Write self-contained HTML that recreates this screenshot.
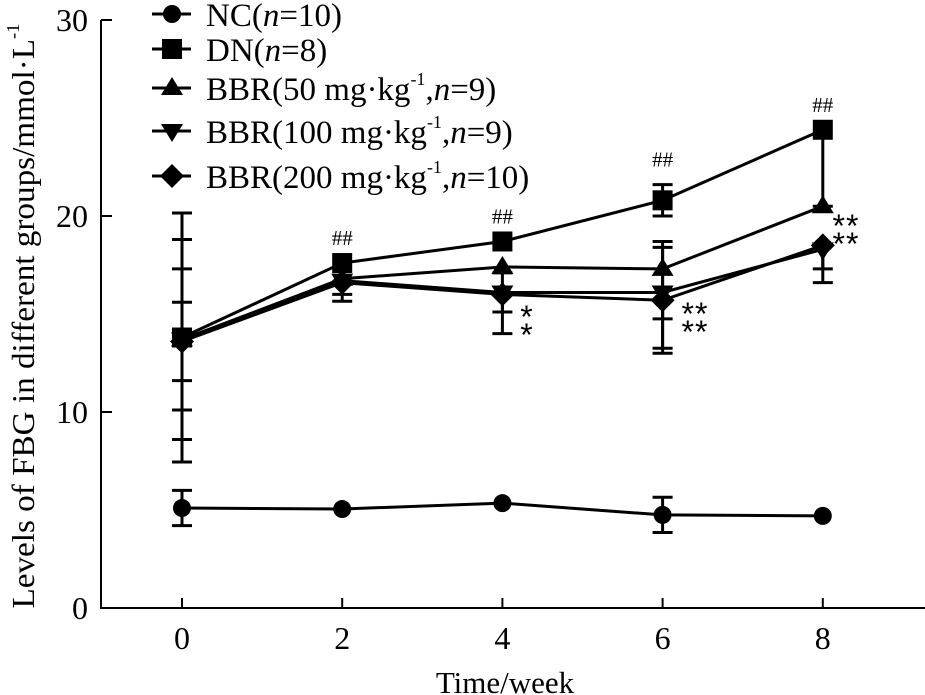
<!DOCTYPE html>
<html><head><meta charset="utf-8"><style>
html,body{margin:0;padding:0;background:#fff;}
svg{display:block;font-family:"Liberation Serif",serif;}
</style></head><body>
<svg id="chart" width="925" height="695" viewBox="0 0 925 695" xmlns="http://www.w3.org/2000/svg">
<g id="axes"></g>
<g id="series"></g>
<g id="annot"></g>
<g id="legend"></g>
<text transform="translate(34,316) rotate(-90)" text-anchor="middle" font-size="32" textLength="585" lengthAdjust="spacingAndGlyphs">Levels of FBG in different groups/mmol·L<tspan dy="-15" font-size="18">-1</tspan></text>
<text x="505" y="693" text-anchor="middle" font-size="31">Time/week</text>
</svg>
<script>
const weeks = [0, 2, 4, 6, 8];
const yTicks = [0, 10, 20, 30];
const names = ["NC", "DN", "BBR50", "BBR100", "BBR200"];
const ncVals = [5.1, 5.05, 5.35, 4.75, 4.7];
const dnVals = [13.8, 17.6, 18.7, 20.8, 24.4];
const b50Vals = [13.7, 16.8, 17.4, 17.3, 20.5];
const b100Vals = [13.7, 16.7, 16.1, 16.1, 18.3];
const b200Vals = [13.6, 16.6, 16.0, 15.7, 18.5];
const ncErrHi = [0.9, 0, 0, 0.9, 0];
const ncErrLo = [0.9, 0, 0, 0.9, 0];
const dnErrHi = [6.35, 0, 0, 0.8, 0];
const dnErrLo = [6.35, 0, 0, 0.8, 3.9];
const b50ErrHi = [5.1, 0, 0, 1.4, 0];
const b50ErrLo = [5.1, 0.8, 0, 4.3, 0];
const b100ErrHi = [3.6, 0, 1.0, 2.3, 0];
const b100ErrLo = [3.6, 1.05, 1.0, 2.85, 1.7];
const b200ErrHi = [2.0, 0, 0, 0, 0];
const b200ErrLo = [2.0, 0, 2.0, 0.95, 1.2];
const hashMarks = [0, 1, 1, 1, 1];
const starSets = [["", ""], ["", ""], ["*", "*"], ["**", "**"], ["**", "**"]];

const NS = "http://www.w3.org/2000/svg";
const X0 = 182, XS = 80.1, Y0 = 608, YS = 19.6;
const xs = w => X0 + w * XS;
const ys = v => Y0 - v * YS;
function mk(parent, tag, attrs) {
  const e = document.createElementNS(NS, tag);
  for (const k in attrs) e.setAttribute(k, attrs[k]);
  parent.appendChild(e);
  return e;
}
const axes = document.getElementById("axes");
let e = mk(axes, "path", {d: `M101 ${ys(30)} V${Y0} H925`, stroke: "#000", "stroke-width": 2, fill: "none"});


yTicks.forEach(t => {
  const l = mk(axes, "line", {x1: 101, x2: 112, y1: ys(t), y2: ys(t), stroke: "#000", "stroke-width": 2});
  
  
  const tx = mk(axes, "text", {x: 88, y: ys(t) + 11, "text-anchor": "end", "font-size": 32});
  tx.textContent = t;
  
  
});
weeks.forEach(w => {
  const l = mk(axes, "line", {x1: xs(w), x2: xs(w), y1: Y0, y2: Y0 - 10, stroke: "#000", "stroke-width": 2});
  
  
  const tx = mk(axes, "text", {x: xs(w), y: 649, "text-anchor": "middle", "font-size": 32});
  tx.textContent = w;
  
  
});

function marker(parent, type, cx, cy) {
  let m;
  if (type === "circle") m = mk(parent, "circle", {cx, cy, r: 9});
  else if (type === "square") m = mk(parent, "rect", {x: cx - 10, y: cy - 10, width: 20, height: 20});
  else if (type === "tri") m = mk(parent, "polygon", {points: `${cx - 11},${cy + 7} ${cx + 11},${cy + 7} ${cx},${cy - 11}`});
  else if (type === "itri") m = mk(parent, "polygon", {points: `${cx - 11},${cy - 7} ${cx + 11},${cy - 7} ${cx},${cy + 11}`});
  else m = mk(parent, "polygon", {points: `${cx - 12},${cy} ${cx},${cy - 12} ${cx + 12},${cy} ${cx},${cy + 12}`});
  m.setAttribute("fill", "#000");
  return m;
}
const seriesDefs = [
  {name: "nc", vals: ncVals, hi: ncErrHi, lo: ncErrLo, m: "circle"},
  {name: "dn", vals: dnVals, hi: dnErrHi, lo: dnErrLo, m: "square"},
  {name: "bbr50", vals: b50Vals, hi: b50ErrHi, lo: b50ErrLo, m: "tri"},
  {name: "bbr100", vals: b100Vals, hi: b100ErrHi, lo: b100ErrLo, m: "itri"},
  {name: "bbr200", vals: b200Vals, hi: b200ErrHi, lo: b200ErrLo, m: "diamond"}
];
const sg = document.getElementById("series");
seriesDefs.forEach(s => {
  const g = mk(sg, "g", {});
  
  
  s.vals.forEach((v, i) => {
    const x = xs(weeks[i]);
    [[s.hi[i], -1], [s.lo[i], 1]].forEach(([err, dir]) => {
      if (err > 0) {
        const yE = ys(v - dir * err);
        const b = mk(g, "path", {d: `M${x} ${ys(v)} V${yE} M${x - 10} ${yE} H${x + 10}`, stroke: "#000", "stroke-width": 3, fill: "none"});
        
        
      }
    });
  });
  const pts = s.vals.map((v, i) => `${xs(weeks[i])},${ys(v)}`).join(" ");
  const pl = mk(g, "polyline", {points: pts, fill: "none", stroke: "#000", "stroke-width": 3});
  
  
  s.vals.forEach((v, i) => {
    const m = marker(g, s.m, xs(weeks[i]), ys(v));
    
    
  });
});

const an = document.getElementById("annot");
weeks.forEach((w, i) => {
  if (hashMarks[i]) {
    const top = Math.max(dnVals[i] + dnErrHi[i], dnVals[i]);
    const t = mk(an, "text", {x: xs(w), y: ys(top) - 18, "text-anchor": "middle", "font-size": 21});
    t.textContent = "##";
    
    
  }
});
const starPos = [null, null, {x: 527, y: 313}, {x: 695, y: 310}, {x: 846, y: 222}];
starSets.forEach((st, i) => {
  if (!st[0]) return;
  st.forEach((s, k) => {
    const t = mk(an, "text", {x: starPos[i].x, y: starPos[i].y + k * 18 + 15, "text-anchor": "middle", "font-size": 32, "font-family": "Liberation Sans, sans-serif", "letter-spacing": "1"});
    t.textContent = s;
    
    
  });
});

const legendItems = [
  {m: "circle", y: 14, html: 'NC(<tspan font-style="italic">n</tspan>=10)'},
  {m: "square", y: 49, html: 'DN(<tspan font-style="italic">n</tspan>=8)'},
  {m: "tri", y: 88, html: 'BBR(50 mg·kg<tspan dy="-15" font-size="18">-1</tspan><tspan dy="15">,</tspan><tspan font-style="italic">n</tspan>=9)'},
  {m: "itri", y: 131, html: 'BBR(100 mg·kg<tspan dy="-15" font-size="18">-1</tspan><tspan dy="15">,</tspan><tspan font-style="italic">n</tspan>=9)'},
  {m: "diamond", y: 176, html: 'BBR(200 mg·kg<tspan dy="-15" font-size="18">-1</tspan><tspan dy="15">,</tspan><tspan font-style="italic">n</tspan>=10)'}
];
const lg = document.getElementById("legend");
legendItems.forEach(it => {
  const g = mk(lg, "g", {});
  
  
  mk(g, "line", {x1: 152, x2: 191, y1: it.y, y2: it.y, stroke: "#000", "stroke-width": 3});
  marker(g, it.m, 172, it.y);
  const t = mk(g, "text", {x: 206, y: it.y + 12, "font-size": 33});
  t.innerHTML = it.html;
});
</script>
</body></html>
